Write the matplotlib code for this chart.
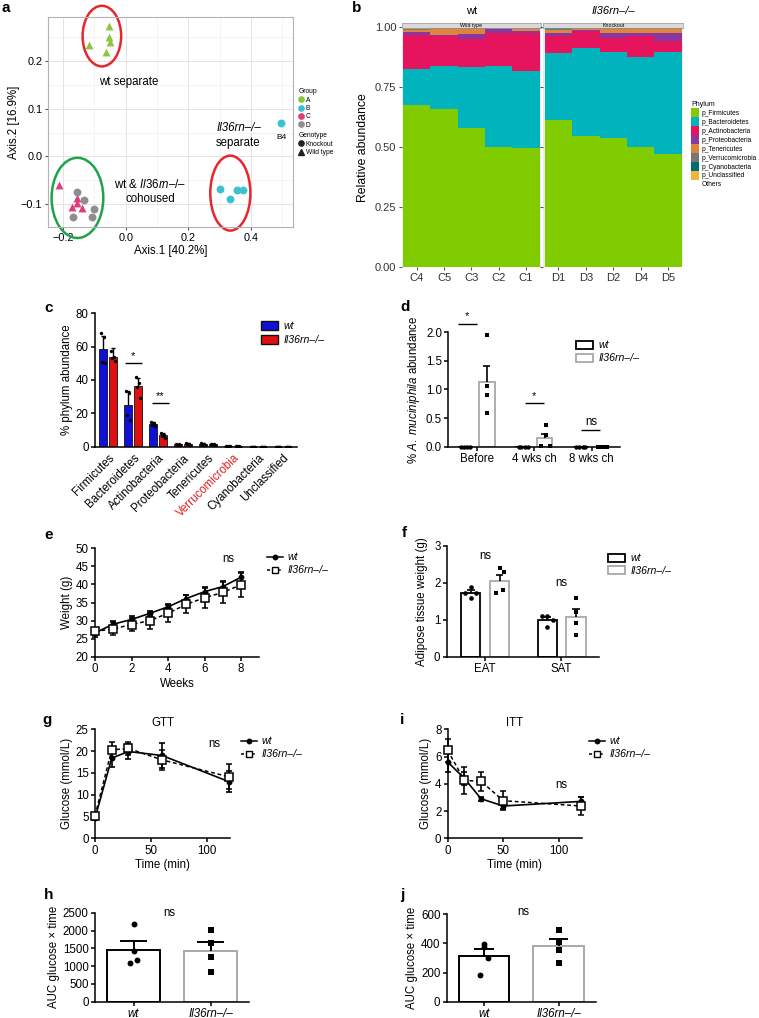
import matplotlib

matplotlib.use("Agg")

import matplotlib.pyplot as plt
import numpy as np
from matplotlib.lines import Line2D
from matplotlib.patches import Ellipse, Patch

plt.rcParams["font.family"] = ["Liberation Sans", "DejaVu Sans"]
plt.rcParams["mathtext.fontset"] = "custom"
plt.rcParams["mathtext.rm"] = "Liberation Sans"
plt.rcParams["mathtext.it"] = "Liberation Sans:italic"
plt.rcParams["font.size"] = 8

KO = "Il36rn–/–"
TICK = 8.3
LAB = 8.3
LEG = 7.6

# ---- panel a: PCoA ----
a_x = {
    "A": [-0.116, -0.053, -0.053, -0.050, -0.062],
    "B": [0.497, 0.300, 0.332, 0.356, 0.373],
    "C": [-0.212, -0.172, -0.157, -0.155, -0.141],
    "D": [-0.156, -0.133, -0.169, -0.108, -0.101],
}
a_y = {
    "A": [0.234, 0.273, 0.251, 0.240, 0.219],
    "B": [0.069, -0.069, -0.089, -0.071, -0.071],
    "C": [-0.059, -0.106, -0.088, -0.097, -0.108],
    "D": [-0.075, -0.092, -0.128, -0.126, -0.111],
}
a_marker = {"A": "^", "B": "o", "C": "^", "D": "o"}
a_color = {"A": "#8cc63f", "B": "#3cc1cf", "C": "#e23b7c", "D": "#8e8e8e"}

# ---- panel b: stacked relative abundance ----
b_samples = ["C4", "C5", "C3", "C2", "C1", "D1", "D3", "D2", "D4", "D5"]
b_firmicutes = [0.675, 0.660, 0.579, 0.503, 0.499, 0.614, 0.547, 0.540, 0.503, 0.472]
b_bacteroidetes = [0.151, 0.180, 0.257, 0.337, 0.319, 0.278, 0.365, 0.359, 0.375, 0.427]
b_actinobacteria = [0.143, 0.122, 0.114, 0.135, 0.160, 0.073, 0.074, 0.055, 0.086, 0.045]
b_proteobacteria = [0.013, 0.004, 0.021, 0.016, 0.005, 0.010, 0.003, 0.021, 0.011, 0.031]
b_tenericutes = [0.006, 0.026, 0.021, 0.003, 0.010, 0.012, 0.004, 0.017, 0.017, 0.019]
b_verrucomicrobia = [0.004, 0.004, 0.004, 0.003, 0.003, 0.006, 0.003, 0.004, 0.004, 0.003]
b_cyanobacteria = [0.002, 0.002, 0.002, 0.002, 0.002, 0.003, 0.002, 0.002, 0.002, 0.002]
b_unclassified = [0.002, 0.001, 0.001, 0.001, 0.001, 0.002, 0.001, 0.001, 0.001, 0.001]
b_phyla = ["p_Firmicutes", "p_Bacteroidetes", "p_Actinobacteria", "p_Proteobacteria",
           "p_Tenericutes", "p_Verrucomicrobia", "p_Cyanobacteria", "p_Unclassified"]
b_colors = ["#80cc00", "#00b3bd", "#e6135d", "#8c36a0", "#e0843c", "#777777", "#006e6e", "#f0b53a"]

# ---- panel c: phylum abundance ----
c_phyla = ["Firmicutes", "Bacteroidetes", "Actinobacteria", "Proteobacteria",
           "Tenericutes", "Verrucomicrobia", "Cyanobacteria", "Unclassified"]
c_wt_mean = [58.8, 25.0, 13.6, 1.5, 1.5, 0.3, 0.1, 0.1]
c_wt_sd = [7.5, 8.6, 1.3, 0.4, 0.5, 0.1, 0.05, 0.05]
c_ko_mean = [54.0, 36.4, 6.9, 1.7, 1.5, 0.2, 0.1, 0.1]
c_ko_sd = [5.0, 5.0, 1.3, 0.5, 0.4, 0.1, 0.05, 0.05]
c_wt_pts = [[68, 66, 51, 50], [33.5, 32, 19, 16], [15, 14, 13, 12.5], [1.9, 1.6, 1.3, 1.2],
            [2.0, 1.6, 1.3, 1.1], [0.4, 0.3, 0.3, 0.2], [0.1, 0.1, 0.1, 0.1], [0.1, 0.1, 0.1, 0.1]]
c_ko_pts = [[57.5, 54, 53, 51.5], [42, 38, 36, 29.5], [8.5, 7, 6.5, 5.5], [2.3, 1.8, 1.5, 1.2],
            [1.9, 1.6, 1.4, 1.1], [0.3, 0.2, 0.2, 0.1], [0.1, 0.1, 0.1, 0.1], [0.1, 0.1, 0.1, 0.1]]

# ---- panel d: A. muciniphila ----
d_groups = ["Before", "4 wks ch", "8 wks ch"]
d_wt_mean = [0.0, 0.0, 0.0]
d_ko_mean = [1.13, 0.15, 0.0]
d_ko_sem = [0.28, 0.08, 0.0]
d_wt_pts = [[0, 0, 0, 0], [0, 0, 0, 0], [0, 0, 0, 0]]
d_ko_pts = [[1.96, 1.06, 0.90, 0.59], [0.38, 0.20, 0.01, 0.01], [0, 0, 0, 0]]

# ---- panel e: body weight ----
e_weeks = [0, 1, 2, 3, 4, 5, 6, 7, 8]
e_wt = [26.6, 29.0, 30.3, 32.0, 33.8, 36.1, 38.0, 39.4, 42.0]
e_wt_err = [1.2, 0.9, 0.9, 0.7, 0.7, 1.0, 1.2, 1.5, 1.4]
e_ko = [27.0, 27.7, 28.9, 30.0, 32.0, 34.5, 36.3, 37.8, 39.9]
e_ko_err = [1.0, 1.8, 1.9, 2.2, 2.4, 2.5, 2.7, 3.0, 3.3]

# ---- panel f: adipose tissue ----
f_groups = ["EAT", "SAT"]
f_wt_mean = [1.73, 0.99]
f_wt_sem = [0.06, 0.07]
f_ko_mean = [2.05, 1.08]
f_ko_sem = [0.17, 0.21]
f_wt_pts = [[1.89, 1.72, 1.72, 1.60], [1.10, 1.10, 1.00, 0.81]]
f_ko_pts = [[2.40, 2.28, 1.71, 1.80], [1.60, 1.22, 0.92, 0.59]]

# ---- panel g: GTT ----
g_time = [0, 15, 30, 60, 120]
g_wt = [4.6, 18.4, 19.9, 19.0, 13.0]
g_wt_err = [0.5, 2.0, 1.8, 2.9, 2.4]
g_ko = [5.2, 20.3, 20.6, 18.0, 14.1]
g_ko_err = [0.6, 1.8, 1.6, 2.3, 2.9]

# ---- panel i: ITT ----
i_time = [0, 15, 30, 50, 120]
i_wt = [5.6, 4.4, 2.9, 2.37, 2.71]
i_wt_err = [0.7, 0.5, 0.15, 0.2, 0.33]
i_ko = [6.45, 4.25, 4.18, 2.76, 2.37]
i_ko_err = [0.85, 1.0, 0.7, 0.7, 0.65]

# ---- panels h, j: AUC ----
auc_groups = ["wt", KO]
h_mean = [1463, 1437]
h_sem = [230, 245]
h_wt_pts = [2180, 1420, 1170, 1080]
h_ko_pts = [2010, 1640, 1255, 845]
j_mean = [313, 380]
j_sem = [48, 48]
j_wt_pts = [396, 373, 298, 183]
j_ko_pts = [492, 408, 353, 268]

W, H = 759, 1018
fig = plt.figure(figsize=(W / 100, H / 100), dpi=100)


def px_axes(left, top, right, bottom):
    return fig.add_axes([left / W, 1 - bottom / H, (right - left) / W, (bottom - top) / H])


def prism(ax, fs=TICK):
    for s in ("top", "right"):
        ax.spines[s].set_visible(False)
    for s in ("left", "bottom"):
        ax.spines[s].set_linewidth(1.1)
    ax.tick_params(direction="out", length=3, width=1.1, labelsize=fs, pad=1.5)


def up_err(ax, x, top, err, half, color="black", lw=1.2):
    ax.vlines(x, top, np.add(top, err), color=color, lw=lw, zorder=4)
    ax.hlines(np.add(top, err), np.subtract(x, half), np.add(x, half), color=color, lw=lw, zorder=4)


def letter(x, y, s):
    fig.text(x / W, 1 - y / H, s, fontsize=11, fontweight="bold", ha="left", va="center")


# ================= a =================
ax = px_axes(48, 17, 293, 227)
ax.set_xlim(-0.248, 0.534)
ax.set_ylim(-0.148, 0.292)
ax.set_xticks([-0.2, 0.0, 0.2, 0.4])
ax.set_yticks([-0.1, 0.0, 0.1, 0.2])
ax.set_xticks([-0.1, 0.1, 0.3, 0.5], minor=True)
ax.set_yticks([-0.05, 0.05, 0.15, 0.25], minor=True)
ax.grid(True, which="major", color="#e3e3e3", lw=0.7)
ax.grid(True, which="minor", color="#f0f0f0", lw=0.5)
ax.set_axisbelow(True)
for s in ax.spines.values():
    s.set_color("#b3b3b3")
    s.set_linewidth(0.8)
ax.tick_params(which="major", length=2.5, color="#555555", labelsize=7.8, pad=1.5)
ax.tick_params(which="minor", length=0)
ax.set_xlabel("Axis.1 [40.2%]", fontsize=8.3, labelpad=2)
ax.set_ylabel("Axis.2 [16.9%]", fontsize=8.3, labelpad=1)
for g in ["A", "B", "C", "D"]:
    ax.scatter(a_x[g], a_y[g], marker=a_marker[g], s=32, color=a_color[g], lw=0, zorder=3)
ax.text(0.497, 0.040, "B4", fontsize=6, ha="center", va="center")
ax.add_patch(Ellipse((-0.076, 0.252), 0.123, 0.127, fill=False, ec="#e8262b", lw=1.8, clip_on=False))
ax.add_patch(Ellipse((-0.154, -0.087), 0.165, 0.168, fill=False, ec="#1fa34a", lw=1.8, clip_on=False))
ax.add_patch(Ellipse((0.334, -0.077), 0.128, 0.157, fill=False, ec="#e8262b", lw=1.8, clip_on=False))
ax.text(0.008, 0.155, "wt separate", fontsize=8.3, ha="center", va="center")
ax.text(0.36, 0.059, KO, fontsize=8.3, ha="center", va="center", style="italic")
ax.text(0.36, 0.027, "separate", fontsize=8.3, ha="center", va="center")
ax.text(0.078, -0.059, r"wt & $\mathit{Il36rn}$–/–", fontsize=8.3, ha="center", va="center")
ax.text(0.078, -0.089, "cohoused", fontsize=8.3, ha="center", va="center")
grp_handles = [Line2D([], [], marker="o", ls="", color=a_color[g], markersize=3.8, label=g)
               for g in ["A", "B", "C", "D"]]
leg1 = ax.legend(handles=grp_handles, title="Group", loc="upper left",
                 bbox_to_anchor=(295 / W, 1 - 85 / H), bbox_transform=fig.transFigure,
                 fontsize=4.8, title_fontsize=4.8, frameon=False, handlelength=0.8,
                 handletextpad=0.3, labelspacing=0.2, borderpad=0, alignment="left")
ax.add_artist(leg1)
gen_handles = [Line2D([], [], marker="o", ls="", color="#222222", markersize=3.8, label="Knockout"),
               Line2D([], [], marker="^", ls="", color="#222222", markersize=4.2, label="Wild type")]
ax.legend(handles=gen_handles, title="Genotype", loc="upper left",
          bbox_to_anchor=(295 / W, 1 - 129 / H), bbox_transform=fig.transFigure,
          fontsize=4.8, title_fontsize=4.8, frameon=False, handlelength=0.8,
          handletextpad=0.3, labelspacing=0.2, borderpad=0, alignment="left")
letter(2, 8, "a")

# ================= b =================
b_layers = [b_firmicutes, b_bacteroidetes, b_actinobacteria, b_proteobacteria,
            b_tenericutes, b_verrucomicrobia, b_cyanobacteria, b_unclassified]
panels = [(401.7, 541.0, slice(0, 5), "wt", "Wild type", "normal"),
          (543.3, 683.3, slice(5, 10), KO, "Knockout", "italic")]
for k, (l, r, sl, title, strip, style) in enumerate(panels):
    bx = px_axes(l, 27.3, r, 267.3)
    bx.set_facecolor("#ebebeb")
    names = b_samples[sl]
    xs = np.arange(len(names))
    bottom = np.zeros(len(names))
    for vals, col in zip(b_layers, b_colors):
        v = np.array(vals[sl])
        bx.bar(xs, v, bottom=bottom, width=1.0, color=col, lw=0)
        bottom += v
    bx.set_xlim(-0.55, 4.55)
    bx.set_ylim(0, 1.0)
    bx.set_xticks(xs)
    bx.set_xticklabels(names, fontsize=8, color="#333333")
    bx.set_yticks([0, 0.25, 0.5, 0.75, 1.0])
    if k == 0:
        bx.set_yticklabels(["0.00", "0.25", "0.50", "0.75", "1.00"], fontsize=8, color="#333333")
        bx.set_ylabel("Relative abundance", fontsize=8.8, labelpad=4)
    else:
        bx.set_yticklabels([])
    for s in bx.spines.values():
        s.set_visible(False)
    bx.tick_params(length=2, color="#555555", pad=2)
    sx = px_axes(l, 23.0, r, 27.8)
    sx.set_facecolor("#d9d9d9")
    for s in sx.spines.values():
        s.set_color("#999999")
        s.set_linewidth(0.5)
    sx.set_xticks([])
    sx.set_yticks([])
    sx.text(0.5, 0.45, strip, fontsize=3.8, ha="center", va="center", transform=sx.transAxes)
    fig.text((l + r) / 2 / W, 1 - 11 / H, title, fontsize=8, ha="center", va="center", style=style)
b_handles = [Patch(facecolor=c, edgecolor="none", label=n) for n, c in zip(b_phyla, b_colors)]
b_handles.append(Patch(facecolor="none", edgecolor="none", label="Others"))
fig.legend(handles=b_handles, title="Phylum", loc="upper left", bbox_to_anchor=(688 / W, 1 - 98 / H),
           fontsize=4.8, title_fontsize=5.0, frameon=False, handlelength=1.1, handleheight=1.65,
           handletextpad=0.4, labelspacing=0.02, borderpad=0, alignment="left")
letter(352, 8, "b")

# ================= c =================
ax = px_axes(95, 313.3, 296.7, 446.7)
prism(ax)
xc = np.arange(len(c_phyla))
bw = 0.33
ax.bar(xc - 0.2, c_wt_mean, width=bw, color="#1010d8", ec="#111111", lw=0.6, zorder=2)
ax.bar(xc + 0.2, c_ko_mean, width=bw, color="#e01010", ec="#111111", lw=0.6, zorder=2)
up_err(ax, xc - 0.2, c_wt_mean, c_wt_sd, 0.08, lw=1.0)
up_err(ax, xc + 0.2, c_ko_mean, c_ko_sd, 0.08, lw=1.0)
jit = [-0.07, 0.05, -0.03, 0.07]
for i in range(len(c_phyla)):
    ax.scatter(xc[i] - 0.2 + np.array(jit), c_wt_pts[i], s=6, color="black", zorder=5, lw=0)
    ax.scatter(xc[i] + 0.2 + np.array(jit), c_ko_pts[i], s=6, color="black", zorder=5, lw=0)
ax.set_xlim(-0.52, 7.55)
ax.set_ylim(0, 80)
ax.set_yticks([0, 20, 40, 60, 80])
ax.set_xticks(xc)
ax.set_xticklabels(c_phyla, rotation=45, ha="right", rotation_mode="anchor", fontsize=TICK)
ax.get_xticklabels()[5].set_color("#e01e1e")
ax.tick_params(axis="x", length=0, pad=4)
ax.set_ylabel("% phylum abundance", fontsize=LAB, labelpad=2)
ax.hlines(50.4, 0.68, 1.35, color="black", lw=1.0)
ax.text(1.0, 51.5, "*", ha="center", va="bottom", fontsize=8)
ax.hlines(26.4, 1.75, 2.44, color="black", lw=1.0)
ax.text(2.1, 27.5, "**", ha="center", va="bottom", fontsize=8)
ax.legend(handles=[Patch(facecolor="#1010d8", edgecolor="#111111", label="wt"),
                   Patch(facecolor="#e01010", edgecolor="#111111", label=KO)],
          loc="upper left", bbox_to_anchor=(256 / W, 1 - 316 / H), bbox_transform=fig.transFigure,
          prop={"style": "italic", "size": LEG}, frameon=False, handlelength=1.6, handleheight=0.9,
          handletextpad=0.5, labelspacing=0.35, borderpad=0)
letter(44, 308, "c")

# ================= d =================
ax = px_axes(448.3, 332.3, 620, 446.7)
prism(ax)
xd = np.arange(len(d_groups))
bw = 0.27
ax.bar(xd - 0.19, d_wt_mean, width=bw, color="white", ec="black", lw=1.3, zorder=2)
ax.bar(xd + 0.18, d_ko_mean, width=bw, color="white", ec="#a8a8a8", lw=1.3, zorder=2)
up_err(ax, xd + 0.18, d_ko_mean, d_ko_sem, 0.06, lw=1.2)
jd_wt = [-0.08, -0.03, 0.03, 0.08]
jd_ko = [[0, 0, 0, 0], [0.03, 0.03, -0.06, 0.1], [-0.08, -0.03, 0.03, 0.08]]
for i in range(len(d_groups)):
    ax.scatter(xd[i] - 0.19 + np.array(jd_wt), d_wt_pts[i], s=10, marker="o", color="black",
               zorder=5, lw=0, clip_on=False)
    ax.scatter(xd[i] + 0.18 + np.array(jd_ko[i]), d_ko_pts[i], s=10, marker="s", color="black",
               zorder=5, lw=0, clip_on=False)
ax.set_xlim(-0.49, 2.49)
ax.set_ylim(0, 2.0)
ax.set_yticks([0, 0.5, 1.0, 1.5, 2.0])
ax.set_yticklabels(["0.0", "0.5", "1.0", "1.5", "2.0"])
ax.set_xticks(xd)
ax.set_xticklabels(d_groups, fontsize=TICK)
ax.set_ylabel(r"% $\mathit{A.\ muciniphila}$ abundance", fontsize=LAB, labelpad=3)
ax.hlines(2.15, -0.32, 0.0, color="black", lw=1.0, clip_on=False)
ax.text(-0.16, 2.19, "*", ha="center", va="bottom", fontsize=8)
ax.hlines(0.758, 0.84, 1.17, color="black", lw=1.0)
ax.text(1.0, 0.80, "*", ha="center", va="bottom", fontsize=8)
ax.hlines(0.29, 1.82, 2.15, color="black", lw=1.0)
ax.text(1.985, 0.32, "ns", ha="center", va="bottom", fontsize=TICK)
ax.legend(handles=[Patch(facecolor="white", edgecolor="black", lw=1.3, label="wt"),
                   Patch(facecolor="white", edgecolor="#a8a8a8", lw=1.3, label=KO)],
          loc="upper left", bbox_to_anchor=(571 / W, 1 - 335 / H), bbox_transform=fig.transFigure,
          prop={"style": "italic", "size": LEG}, frameon=False, handlelength=1.6, handleheight=0.8,
          handletextpad=0.5, labelspacing=0.3, borderpad=0)
letter(400, 307, "d")


def line_panel(ax, x, wt, wt_err, ko, ko_err):
    ax.errorbar(x, wt, yerr=wt_err, color="black", lw=1.2, marker="o", markersize=3.2,
                capsize=2, elinewidth=1.2, capthick=1.2, clip_on=False, zorder=4)
    ax.errorbar(x, ko, yerr=ko_err, color="black", lw=1.1, ls=(0, (2.5, 1.8)), marker="s",
                markersize=5.2, mfc="white", mew=1.1, capsize=2, elinewidth=1.2, capthick=1.2,
                clip_on=False, zorder=5)


def line_legend(ax, x, y):
    hs = [Line2D([], [], color="black", lw=1.1, marker="o", markersize=3.2, label="wt"),
          Line2D([], [], color="black", lw=1.1, ls=(0, (2, 1.5)), marker="s", markersize=4.8,
                 mfc="white", label=KO)]
    ax.legend(handles=hs, loc="upper left", bbox_to_anchor=(x / W, 1 - y / H),
              bbox_transform=fig.transFigure, prop={"style": "italic", "size": LEG},
              frameon=False, handlelength=1.5, handletextpad=0.4, labelspacing=0.3, borderpad=0)


# ================= e =================
ax = px_axes(95, 548.3, 259.3, 656.7)
prism(ax)
line_panel(ax, e_weeks, e_wt, e_wt_err, e_ko, e_ko_err)
ax.set_xlim(0, 9)
ax.set_ylim(20, 50)
ax.set_xticks([0, 2, 4, 6, 8])
ax.set_yticks([20, 25, 30, 35, 40, 45, 50])
ax.set_xlabel("Weeks", fontsize=LAB, labelpad=2)
ax.set_ylabel("Weight (g)", fontsize=LAB, labelpad=2)
ax.text(7.3, 47.0, "ns", ha="center", va="center", fontsize=TICK)
line_legend(ax, 262, 547)
letter(44, 535, "e")

# ================= f =================
ax = px_axes(446.7, 545.7, 599, 656.7)
prism(ax)
xf = np.arange(len(f_groups))
bw = 0.25
ax.bar(xf - 0.185, f_wt_mean, width=bw, color="white", ec="black", lw=1.3, zorder=2)
ax.bar(xf + 0.19, f_ko_mean, width=bw, color="white", ec="#a8a8a8", lw=1.3, zorder=2)
up_err(ax, xf - 0.185, f_wt_mean, f_wt_sem, 0.05, lw=1.2)
up_err(ax, xf + 0.19, f_ko_mean, f_ko_sem, 0.05, lw=1.2)
jf = [0.0, -0.07, 0.07, 0.0]
jf_ko = [[0.0, 0.06, -0.04, 0.04], [0.0, 0.0, 0.0, 0.0]]
for i in range(len(f_groups)):
    ax.scatter(xf[i] - 0.185 + np.array(jf), f_wt_pts[i], s=11, marker="o", color="black", zorder=5, lw=0)
    ax.scatter(xf[i] + 0.19 + np.array(jf_ko[i]), f_ko_pts[i], s=11, marker="s", color="black", zorder=5, lw=0)
ax.set_xlim(-0.5, 1.49)
ax.set_ylim(0, 3)
ax.set_yticks([0, 1, 2, 3])
ax.set_xticks(xf)
ax.set_xticklabels(f_groups, fontsize=TICK)
ax.set_ylabel("Adipose tissue weight (g)", fontsize=LAB, labelpad=4)
ax.text(0.0, 2.72, "ns", ha="center", va="center", fontsize=TICK)
ax.text(1.0, 2.0, "ns", ha="center", va="center", fontsize=TICK)
ax.legend(handles=[Patch(facecolor="white", edgecolor="black", lw=1.3, label="wt"),
                   Patch(facecolor="white", edgecolor="#a8a8a8", lw=1.3, label=KO)],
          loc="upper left", bbox_to_anchor=(603 / W, 1 - 548 / H), bbox_transform=fig.transFigure,
          prop={"style": "italic", "size": LEG}, frameon=False, handlelength=1.6, handleheight=0.8,
          handletextpad=0.5, labelspacing=0.25, borderpad=0)
letter(402, 533, "f")

# ================= g =================
ax = px_axes(95, 729.3, 230, 838.3)
prism(ax)
line_panel(ax, g_time, g_wt, g_wt_err, g_ko, g_ko_err)
ax.set_xlim(0, 121)
ax.set_ylim(0, 25)
ax.set_xticks([0, 50, 100])
ax.set_yticks([0, 5, 10, 15, 20, 25])
ax.set_xlabel("Time (min)", fontsize=LAB, labelpad=2)
ax.set_ylabel("Glucose (mmol/L)", fontsize=LAB, labelpad=2)
ax.set_title("GTT", fontsize=LAB, pad=1)
ax.text(107, 21.6, "ns", ha="center", va="center", fontsize=TICK)
line_legend(ax, 236, 731)
letter(42, 720, "g")

# ================= i =================
ax = px_axes(447.7, 729.3, 581.7, 838.3)
prism(ax)
line_panel(ax, i_time, i_wt, i_wt_err, i_ko, i_ko_err)
ax.set_xlim(0, 120.5)
ax.set_ylim(0, 8)
ax.set_xticks([0, 50, 100])
ax.set_yticks([0, 2, 4, 6, 8])
ax.set_xlabel("Time (min)", fontsize=LAB, labelpad=2)
ax.set_ylabel("Glucose (mmol/L)", fontsize=LAB, labelpad=2)
ax.set_title("ITT", fontsize=LAB, pad=1)
ax.text(102, 3.9, "ns", ha="center", va="center", fontsize=TICK)
line_legend(ax, 584, 731)
letter(400, 720, "i")


def auc_panel(ax, mean, sem, wt_pts, ko_pts, cap):
    xa = np.arange(2)
    ax.bar(xa, mean, width=0.68, color="white", ec=["black", "#a8a8a8"], lw=1.4, zorder=2)
    up_err(ax, xa, mean, sem, cap, lw=1.4)
    ax.scatter(0 + np.array([0.0, 0.0, 0.05, -0.05]), wt_pts, s=18, marker="o", color="black", zorder=5, lw=0)
    ax.scatter(1 + np.zeros(len(ko_pts)), ko_pts, s=18, marker="s", color="black", zorder=5, lw=0)
    ax.set_xlim(-0.5, 1.5)
    ax.set_xticks(xa)
    ax.set_xticklabels(auc_groups, style="italic", fontsize=TICK)
    ax.set_ylabel("AUC glucose × time", fontsize=LAB, labelpad=2)


# ================= h =================
ax = px_axes(95, 912.7, 249, 1001.7)
prism(ax)
auc_panel(ax, h_mean, h_sem, h_wt_pts, h_ko_pts, 0.18)
ax.set_ylim(0, 2500)
ax.set_yticks([0, 500, 1000, 1500, 2000, 2500])
ax.text(0.47, 2480, "ns", ha="center", va="center", fontsize=TICK)
letter(44, 895, "h")

# ================= j =================
ax = px_axes(446.7, 914.3, 596, 1001.7)
prism(ax)
auc_panel(ax, j_mean, j_sem, j_wt_pts, j_ko_pts, 0.13)
ax.set_ylim(0, 600)
ax.set_yticks([0, 200, 400, 600])
ax.text(0.53, 614, "ns", ha="center", va="center", fontsize=TICK)
letter(400, 895, "j")

fig.savefig("out.png", dpi=100)
plt.close(fig)
